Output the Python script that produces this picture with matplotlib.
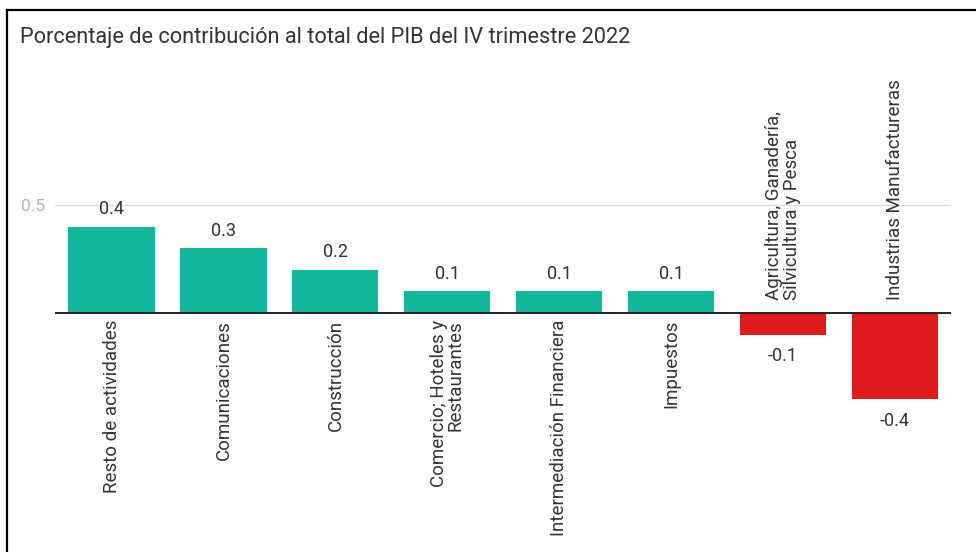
import matplotlib
matplotlib.use("Agg")
import matplotlib.pyplot as plt
from matplotlib.lines import Line2D

# Contribution of each activity to GDP growth, Q4 2022 (percentage points)
categories = [
    "Resto de actividades",
    "Comunicaciones",
    "Construcción",
    "Comercio; Hoteles y\nRestaurantes",
    "Intermediación Financiera",
    "Impuestos",
    "Agricultura, Ganadería,\nSilvicultura y Pesca",
    "Industrias Manufactureras",
]
values = [0.4, 0.3, 0.2, 0.1, 0.1, 0.1, -0.1, -0.4]
y_ticks = [0.5]
y_tick_labels = ["0.5"]
title = "Porcentaje de contribución al total del PIB del IV trimestre 2022"

POS_COLOR = "#13B89A"
NEG_COLOR = "#E01A1C"
TEXT_COLOR = "#333333"

plt.rcParams["font.family"] = ["Roboto", "DejaVu Sans"]

fig = plt.figure(figsize=(9.76, 5.52), dpi=100)
ax = fig.add_axes([55 / 976, 12 / 552, 896 / 976, 480 / 552])

x = list(range(len(values)))
colors = [POS_COLOR if v >= 0 else NEG_COLOR for v in values]
ax.bar(x, values, width=0.77, color=colors, zorder=2)

ax.set_xlim(-0.505, 7.5)
ax.set_ylim(-1.051, 1.171)

# gridline and baseline
for t in y_ticks:
    ax.axhline(t, color="#dddddd", lw=1.0, zorder=1)
ax.axhline(0, color="#222222", lw=1.4, zorder=3)

ax.set_yticks(y_ticks)
ax.set_yticklabels(y_tick_labels)
ax.tick_params(axis="y", length=0, pad=7, labelsize=12.5, labelcolor="#b5b5b5")
ax.set_xticks([])
for s in ax.spines.values():
    s.set_visible(False)
ax.patch.set_alpha(0)

for xi, v, cat in zip(x, values, categories):
    if v >= 0:
        ax.annotate(f"{v:.1f}", (xi, v), xytext=(0, 6), textcoords="offset points",
                    ha="center", va="bottom", fontsize=13, color=TEXT_COLOR)
        ax.annotate(cat, (xi, 0), xytext=(0, -5), textcoords="offset points",
                    ha="center", va="top", rotation=90, multialignment="right",
                    fontsize=13.5, color=TEXT_COLOR, linespacing=0.95)
    else:
        ax.annotate(f"{v:.1f}", (xi, v), xytext=(0, -9), textcoords="offset points",
                    ha="center", va="top", fontsize=13, color=TEXT_COLOR)
        ax.annotate(cat, (xi, 0), xytext=(0, 9), textcoords="offset points",
                    ha="center", va="bottom", rotation=90, multialignment="left",
                    fontsize=13.5, color=TEXT_COLOR, linespacing=0.95)

fig.text(20 / 976, 1 - 37 / 552, title, ha="left", va="center",
         fontsize=15.7, color=TEXT_COLOR)

# frame lines along the top and left edges
fig.add_artist(Line2D([7 / 976, 1.0], [1 - 10 / 552, 1 - 10 / 552],
                      transform=fig.transFigure, color="black", lw=1.6))
fig.add_artist(Line2D([7 / 976, 7 / 976], [0, 1 - 10 / 552],
                      transform=fig.transFigure, color="black", lw=1.6))

fig.savefig("out.png", dpi=100, facecolor="white")
